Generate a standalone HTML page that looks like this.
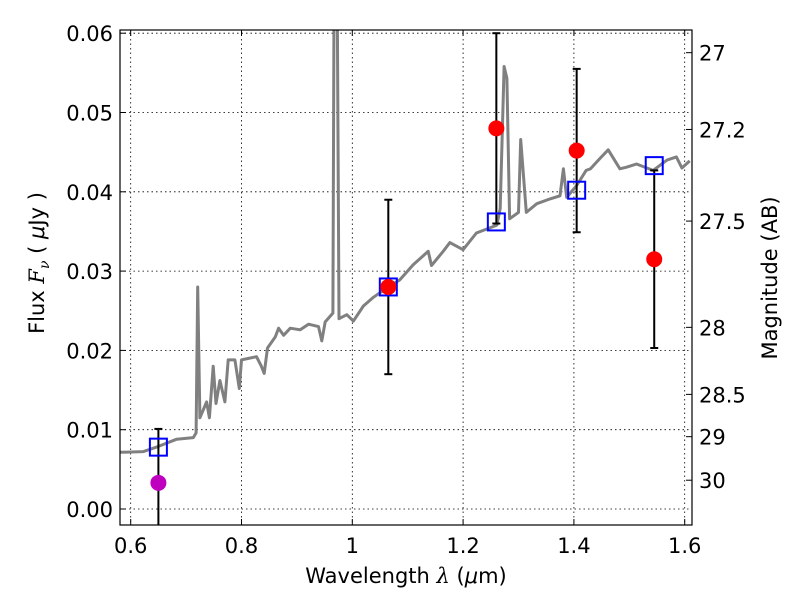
<!DOCTYPE html>
<html><head><meta charset="utf-8"><style>
body{margin:0;background:#fff;}
svg{font-family:"DejaVu Sans","Liberation Sans",sans-serif;}
</style></head><body>
<svg id="chart" width="800" height="600" viewBox="0 0 800 600" xmlns="http://www.w3.org/2000/svg">
<defs><clipPath id="clip"><rect x="120" y="30" width="572" height="495"/></clipPath></defs>
<rect width="800" height="600" fill="#fff"/>
<g id="grid"></g>
<g id="plot" clip-path="url(#clip)"></g>
<g id="axes"></g>
<text x="406" y="583" font-size="21" text-anchor="middle">Wavelength  <tspan font-family="DejaVu Serif" font-style="italic">λ</tspan> (<tspan font-style="italic">μ</tspan>m)</text>
<text transform="translate(44,263) rotate(-90)" font-size="21" text-anchor="middle">Flux  <tspan font-family="DejaVu Serif" font-style="italic">F</tspan><tspan font-family="DejaVu Serif" font-style="italic" font-size="14" dy="5">ν</tspan><tspan dy="-5">  ( </tspan><tspan font-style="italic">μ</tspan>Jy )</text>
<text transform="translate(777,278) rotate(-90)" font-size="21" text-anchor="middle">Magnitude (AB)</text>
</svg>
<script>
const specLam=[0.581,0.623,0.65,0.683,0.713,0.718,0.721,0.725,0.737,0.742,0.749,0.754,0.761,0.770,0.776,0.788,0.796,0.8,0.827,0.836,0.841,0.847,0.861,0.867,0.876,0.888,0.906,0.921,0.939,0.945,0.951,0.965,0.967,0.973,0.976,0.990,1.002,1.020,1.038,1.065,1.086,1.110,1.137,1.143,1.164,1.176,1.200,1.224,1.261,1.267,1.274,1.279,1.284,1.300,1.304,1.314,1.333,1.357,1.375,1.381,1.387,1.405,1.422,1.430,1.447,1.462,1.483,1.495,1.513,1.543,1.568,1.585,1.595,1.609];
const specFlux=[0.00715,0.00724,0.0079,0.0088,0.0090,0.0096,0.0280,0.0115,0.0135,0.0115,0.0180,0.0133,0.0162,0.0135,0.0188,0.0188,0.0152,0.0188,0.0192,0.0180,0.0171,0.0203,0.0217,0.0228,0.0219,0.0228,0.0226,0.0233,0.0230,0.0212,0.0236,0.0247,0.063,0.063,0.0240,0.0245,0.0237,0.0256,0.0267,0.0280,0.0289,0.0308,0.0325,0.0307,0.0325,0.0336,0.0327,0.0348,0.0358,0.0379,0.0558,0.0543,0.0366,0.0374,0.0466,0.0374,0.0385,0.0391,0.0395,0.0429,0.0393,0.0408,0.0427,0.0429,0.0442,0.0453,0.0429,0.0431,0.0435,0.0427,0.0440,0.0444,0.0430,0.0439];
const obsLam=[1.065,1.26,1.405,1.545];
const obsFlux=[0.028,0.048,0.0452,0.0315];
const obsErr=[0.011,0.012,0.0103,0.0112];
const limLam=[0.65];
const limFlux=[0.0033];
const limErr=[0.0068];
const synLam=[0.65,1.065,1.26,1.405,1.545];
const synFlux=[0.0078,0.028,0.0362,0.0402,0.0433];
const xTicks=[0.6,0.8,1.0,1.2,1.4,1.6];
const xLabels=["0.6","0.8","1","1.2","1.4","1.6"];
const yTicks=[0,0.01,0.02,0.03,0.04,0.05,0.06];
const yLabels=["0.00","0.01","0.02","0.03","0.04","0.05","0.06"];
const magTicks=[27,27.2,27.5,28,28.5,29,30];
const magLabels=["27","27.2","27.5","28","28.5","29","30"];

const NS="http://www.w3.org/2000/svg";
const L=120,R=692,T=30,B=525;
const xs=v=>130.7+(v-0.6)/0.2*110.8;
const ys=v=>509-v*7930;
const magToFlux=m=>Math.pow(10,(23.9-m)/2.5);
function el(tag,attrs,parent){const e=document.createElementNS(NS,tag);for(const k in attrs)e.setAttribute(k,attrs[k]);parent.appendChild(e);return e;}
const grid=document.getElementById('grid'),plot=document.getElementById('plot'),axes=document.getElementById('axes');

xTicks.forEach((t,i)=>{
  const g=el('line',{x1:xs(t),x2:xs(t),y1:T,y2:B,stroke:'#000','stroke-width':0.8,'stroke-dasharray':'1.5,3'},grid);
  
  el('line',{x1:xs(t),x2:xs(t),y1:B,y2:B-6,stroke:'#000','stroke-width':1},axes);
  el('line',{x1:xs(t),x2:xs(t),y1:T,y2:T+6,stroke:'#000','stroke-width':1},axes);
  const tx=el('text',{x:xs(t),y:553,'font-size':21,'text-anchor':'middle'},axes);tx.textContent=xLabels[i];
  
});
yTicks.forEach((t,i)=>{
  const g=el('line',{x1:L,x2:R,y1:ys(t),y2:ys(t),stroke:'#000','stroke-width':0.8,'stroke-dasharray':'1.5,3'},grid);
  
  el('line',{x1:L,x2:L+6,y1:ys(t),y2:ys(t),stroke:'#000','stroke-width':1},axes);
  const tx=el('text',{x:113,y:ys(t)+8,'font-size':21,'text-anchor':'end'},axes);tx.textContent=yLabels[i];
  
});
magTicks.forEach((m,i)=>{
  const y=ys(magToFlux(m));
  el('line',{x1:R,x2:R-6,y1:y,y2:y,stroke:'#000','stroke-width':1},axes);
  const tx=el('text',{x:699,y:y+8,'font-size':21},axes);tx.textContent=magLabels[i];
  
});
const frame=el('rect',{x:L,y:T,width:R-L,height:B-T,fill:'none',stroke:'#000','stroke-width':1.2},axes);


const pts=specLam.map((l,i)=>xs(l).toFixed(1)+','+ys(specFlux[i]).toFixed(1)).join(' ');
const sp=el('polyline',{points:pts,fill:'none',stroke:'#808080','stroke-width':3,'stroke-linejoin':'round'},plot);


function errbar(l,f,e,name){
  const x=xs(l);
  const g=el('g',{},plot);
  
  el('line',{x1:x,x2:x,y1:ys(f+e),y2:ys(f-e),stroke:'#000','stroke-width':2},g);
  el('line',{x1:x-4,x2:x+4,y1:ys(f+e),y2:ys(f+e),stroke:'#000','stroke-width':2},g);
  el('line',{x1:x-4,x2:x+4,y1:ys(f-e),y2:ys(f-e),stroke:'#000','stroke-width':2},g);
}
obsLam.forEach((l,i)=>errbar(l,obsFlux[i],obsErr[i],'error-bar'));
limLam.forEach((l,i)=>errbar(l,limFlux[i],limErr[i],'limit-error-bar'));
synLam.forEach((l,i)=>{
  const r=el('rect',{x:xs(l)-8.5,y:ys(synFlux[i])-8.5,width:17,height:17,fill:'none',stroke:'#0000ff','stroke-width':2},plot);
  
});
obsLam.forEach((l,i)=>{
  const c=el('circle',{cx:xs(l),cy:ys(obsFlux[i]),r:8,fill:'#ff0000'},plot);
  
});
limLam.forEach((l,i)=>{
  const c=el('circle',{cx:xs(l),cy:ys(limFlux[i]),r:8,fill:'#bf00bf'},plot);
  
});
</script>
</body></html>
